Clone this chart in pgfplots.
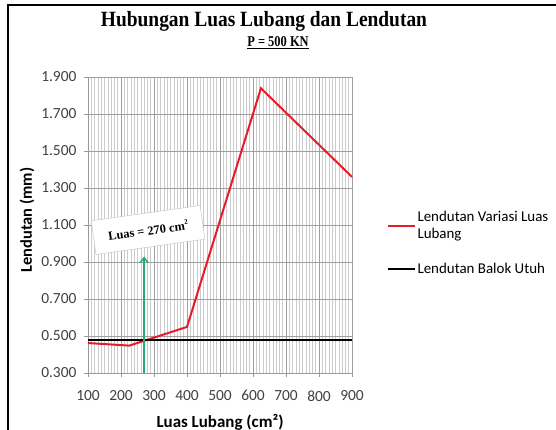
\documentclass[border=0pt]{standalone}
\usepackage{fontspec}
\setmainfont{Carlito}
\newfontfamily\timesf{Liberation Serif}
\usepackage{pgfplots}
\pgfplotsset{compat=1.18}
\usetikzlibrary{arrows.meta}
\definecolor{redline}{RGB}{232,28,40}
\definecolor{arrowgreen}{RGB}{40,170,115}
\begin{document}
\begin{tikzpicture}[x=1bp,y=1bp]
\begin{axis}[
  at={(88bp,57bp)}, anchor=south west,
  width=264bp, height=296bp, scale only axis,
  xmin=100, xmax=900, ymin=0.3, ymax=1.9,
  xtick={100,200,...,900},
  ytick={0.3,0.5,0.7,0.9,1.1,1.3,1.5,1.7,1.9},
  yticklabels={0.300,0.500,0.700,0.900,1.100,1.300,1.500,1.700,1.900},
  minor x tick num=9,
  xmajorgrids, xminorgrids, ymajorgrids,
  major grid style={gray!75, line width=0.6bp},
  minor grid style={gray!40, line width=0.5bp},
  axis lines*=left,
  axis line style={gray!80, line width=0.8bp},
  tick align=outside,
  major tick length=4bp, minor tick length=0pt,
  tick style={gray!80},
  /pgf/number format/assume math mode=true,
  ticklabel style={font=\fontsize{15.5}{15.5}\selectfont, text=black!75},
  xticklabel style={yshift=-10bp},
  yticklabel style={xshift=-4bp},
  legend style={at={(1.13,0.56)}, anchor=north west, draw=none, fill=none,
    font=\fontsize{15}{17}\selectfont, row sep=19bp,
    cells={anchor=west, align=left}, inner xsep=0bp},
  legend image code/.code={\draw[#1] (0bp,0bp) -- (27bp,0bp);},
  clip=false,
]
\addplot[redline, line width=2bp] coordinates {(100,0.462) (225,0.448) (400,0.549) (624,1.839) (900,1.36)};
\addlegendentry{Lendutan Variasi Luas\\Lubang}
\addplot[black, line width=2bp] coordinates {(100,0.478) (900,0.478)};
\addlegendentry{Lendutan Balok Utuh}
\addplot[arrowgreen, line width=1.5bp, -{Straight Barb[length=5bp,width=8bp]}, forget plot] coordinates {(270,0.3) (270,0.93)};
\node[draw=gray!50, fill=white, rotate=8, minimum width=110bp, minimum height=34bp,
  font=\timesf\bfseries\fontsize{12.5}{12.5}\selectfont] at (axis cs:282,1.073)
  {Luas = 270 cm\raisebox{6bp}{\fontsize{7}{7}\selectfont 2}};
\end{axis}
\node[anchor=base, yscale=1.12, font=\timesf\bfseries\fontsize{19.5}{19.5}\selectfont] at (264bp,403.5bp) {Hubungan Luas Lubang dan Lendutan};
\node[anchor=base, yscale=1.2, font=\timesf\bfseries\fontsize{12.5}{12.5}\selectfont] at (278bp,383.5bp) {\underline{P = 500 KN}};
\node[rotate=90, font=\bfseries\fontsize{16.5}{16.5}\selectfont] at (27bp,210bp) {Lendutan (mm)};
\node[font=\bfseries\fontsize{17}{17}\selectfont] at (220bp,8bp) {Luas Lubang (cm²)};
\draw[line width=2bp] (8bp,0bp) -- (8bp,425bp) -- (556bp,425bp);
\pgfresetboundingbox
\useasboundingbox (0bp,0bp) rectangle (556bp,430bp);
\end{tikzpicture}
\end{document}
